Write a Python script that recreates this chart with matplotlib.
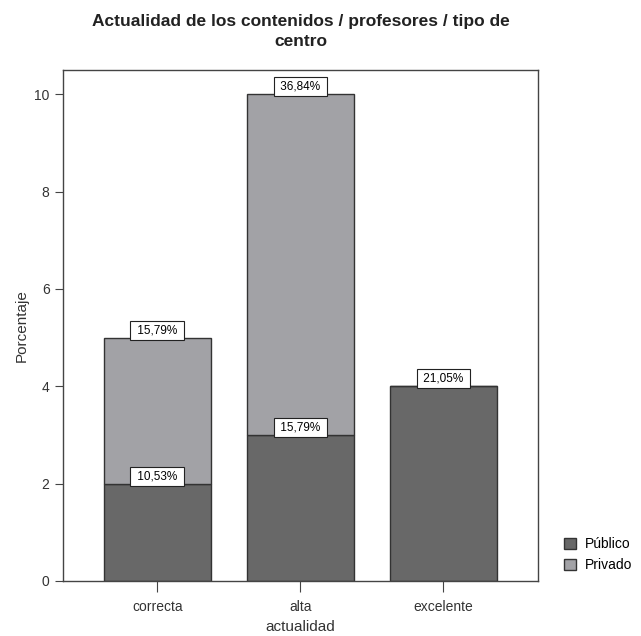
import numpy as np
import matplotlib.pyplot as plt
import matplotlib.patches as mpatches

plt.rcParams['font.family'] = ['Liberation Sans', 'DejaVu Sans']

categorias = ['correcta', 'alta', 'excelente']
publico = [2, 3, 4]
privado = [3, 7, 0]
etiq_publico = ['10,53%', '15,79%', '21,05%']
etiq_privado = ['15,79%', '36,84%', '']

col_pub = '#686868'
col_priv = '#a2a2a6'

fig = plt.figure(figsize=(6.41, 6.36), dpi=100)
ax = fig.add_axes([0.098, 0.0865, 0.741, 0.8035])

x = np.arange(len(categorias))
ax.bar(x, publico, width=0.75, color=col_pub, edgecolor='#333333', linewidth=1)
ax.bar(x, privado, width=0.75, bottom=publico, color=col_priv, edgecolor='#333333', linewidth=1)

caja = dict(boxstyle='square,pad=0.3', facecolor='white', edgecolor='#222222', linewidth=0.8)


def etiqueta(xi, yi, txt):
    ax.annotate(' ' + txt + ' ', (xi, yi), xytext=(0, 1.0), textcoords='offset points',
                ha='center', va='bottom', fontsize=8.5, bbox=caja)


for i in range(len(categorias)):
    etiqueta(x[i], publico[i], etiq_publico[i])
    if privado[i] > 0:
        etiqueta(x[i], publico[i] + privado[i], etiq_privado[i])

ax.set_xlim(-0.66, 2.66)
ax.set_ylim(0, 10.5)
ax.set_yticks([0, 2, 4, 6, 8, 10])
ax.set_xticks(x)
ax.set_xticklabels(categorias, fontsize=10, color='#333333')
ax.tick_params(axis='y', labelsize=10, length=6, color='#444444', labelcolor='#333333')
ax.tick_params(axis='x', length=8, color='#444444', pad=6)
for s in ax.spines.values():
    s.set_color('#444444')
    s.set_linewidth(1)
ax.set_xlabel('actualidad', fontsize=11, color='#333333')
ax.set_ylabel('Porcentaje', fontsize=11, color='#333333')

fig.suptitle('Actualidad de los contenidos / profesores / tipo de\ncentro',
             x=0.47, y=0.978, fontsize=12.5, fontweight='bold', color='#222222',
             linespacing=1.45)

h = [mpatches.Patch(facecolor=col_pub, edgecolor='#333333', label='Público'),
     mpatches.Patch(facecolor=col_priv, edgecolor='#333333', label='Privado')]
fig.legend(handles=h, loc='upper left', bbox_to_anchor=(0.86, 0.175), frameon=False,
           fontsize=10, handlelength=0.9, handleheight=0.9, handletextpad=0.6, labelspacing=0.5)

fig.savefig('out.png', dpi=100)
